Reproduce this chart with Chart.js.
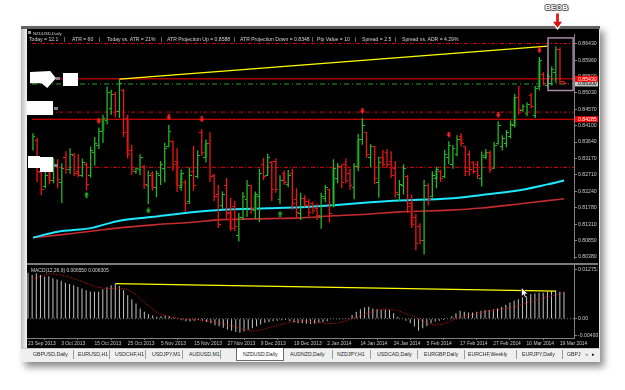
<!DOCTYPE html>
<html>
<head>
<meta charset="utf-8">
<script src="https://cdn.jsdelivr.net/npm/chart.js@4.4.1/dist/chart.umd.min.js"></script>
<style>
  html, body { margin: 0; padding: 0; background: #fff; }
  body { width: 625px; height: 390px; position: relative; overflow: hidden; font-family: "Liberation Sans", Arial, sans-serif; }
  .abs { position: absolute; }
  .t { position: absolute; white-space: nowrap; transform-origin: 0 0; transform: scale(0.5); line-height: 1; }
  #win { left: 21px; top: 26px; width: 579px; height: 336px; background: #e4e4e4; box-shadow: 4px 5px 7px rgba(0,0,0,.45); }
  #topline { left: 21px; top: 26px; width: 579px; height: 3px; background: #626262; }
  #frameL { left: 21px; top: 29px; width: 6px; height: 319px; background: linear-gradient(to right, #bcbcbc, #f4f4f4); }
  #black { left: 27px; top: 29px; width: 572px; height: 319px; background: #000; }
  #main { left: 27px; top: 29px; }
  #sep { left: 27px; top: 263px; width: 571px; height: 2px; background: #7c7c7c; }
  #macd { left: 27px; top: 265px; }
  #tabs { left: 21px; top: 348px; width: 579px; height: 14px; background: #efefef; border-top: 1px solid #c8c8c8; box-sizing: border-box; }
  .hdr { color: #d4d4d4; font-size: 10.2px; top: 37px; }
  .tab { color: #262626; font-size: 10.4px; top: 352px; }
  .sp { position: absolute; top: 350px; width: 1px; height: 9px; background: #9c9c9c; }
  .wb { position: absolute; background: #fff; }
  .ic { position: absolute; width: 4px; height: 3px; background: #7d8290; }
</style>
</head>
<body>
<div id="win" class="abs"></div>
<div id="topline" class="abs"></div>
<div id="frameL" class="abs"></div>
<div id="black" class="abs"></div>
<canvas id="main" class="abs" width="571" height="234"></canvas>
<div id="sep" class="abs"></div>
<canvas id="macd" class="abs" width="571" height="83"></canvas>

<!-- chart header texts -->
<div class="abs" style="left:28px;top:31px;width:3px;height:3px;background:#9a9a9a;"></div>
<div class="t" style="left:33px;top:30.5px;font-size:8.6px;color:#d4d4d4;">NZDUSD,Daily</div>
<div class="t hdr" style="left:29px;">Today = 12.1</div>
<div class="t hdr" style="left:64px;">|</div>
<div class="t hdr" style="left:72px;">ATR = 60</div>
<div class="t hdr" style="left:99px;">|</div>
<div class="t hdr" style="left:107px;">Today vs. ATR = 21%</div>
<div class="t hdr" style="left:161px;">|</div>
<div class="t hdr" style="left:167px;">ATR Projection Up = 0.8588</div>
<div class="t hdr" style="left:234px;">|</div>
<div class="t hdr" style="left:240px;">ATR Projection Down = 0.8348</div>
<div class="t hdr" style="left:312px;">|</div>
<div class="t hdr" style="left:317px;">Pip Value = 10</div>
<div class="t hdr" style="left:355px;">|</div>
<div class="t hdr" style="left:362px;">Spread = 2.5</div>
<div class="t hdr" style="left:395px;">|</div>
<div class="t hdr" style="left:402px;">Spread vs. ADR = 4.29%</div>
<div class="t" style="left:31px;top:267.5px;font-size:9.8px;color:#d4d4d4;">MACD(12,26,9) 0.006550 0.006305</div>

<!-- blanked-out object labels on the left -->
<div class="wb" style="left:30px;top:71px;width:26px;height:17px;clip-path:polygon(0 6%,78% 0,100% 42%,66% 100%,44% 72%,0 72%);"></div>
<div class="wb" style="left:63px;top:73px;width:15px;height:13px;"></div>
<div class="wb" style="left:27px;top:101px;width:26px;height:14px;"></div>
<div class="wb" style="left:28px;top:156px;width:25px;height:16px;clip-path:polygon(0 0,48% 0,48% 6%,100% 6%,100% 100%,48% 100%,48% 75%,0 75%);"></div>
<div class="ic" style="left:56px;top:77px;"></div>
<div class="ic" style="left:54px;top:107px;"></div>
<div class="ic" style="left:54px;top:164px;"></div>

<!-- BEOB note -->
<div class="t" style="left:545px;top:3px;font-size:16px;font-weight:bold;color:#fff;text-shadow:-2px 0 #5a5a5a,2px 0 #5a5a5a,0 -2px #5a5a5a,0 2px #5a5a5a,2px 2px 2px #888;">BEOB</div>
<svg class="abs" style="left:550px;top:12px;" width="15" height="18" viewBox="0 0 15 18">
  <polygon points="5.5,0.8 9.5,0.8 9.5,9 13.5,9 7.5,17 1.5,9 5.5,9" fill="#e01010" stroke="#fff" stroke-width="1.3"/>
</svg>
<svg class="abs" style="left:521px;top:287px;" width="8" height="12" viewBox="0 0 8 12">
  <polygon points="0.5,0.5 0.5,9.5 2.6,7.6 4,10.8 5.4,10.2 4,7 6.8,7" fill="#fff" stroke="#000" stroke-width="0.6"/>
</svg>

<!-- symbol tabs -->
<div id="tabs" class="abs"></div>
<div class="abs" style="left:236px;top:348px;width:48px;height:13px;background:#fff;border:1px solid #6c6c6c;border-top:none;box-sizing:border-box;"></div>
<div class="t tab" style="left:33px;">GBPUSD,Daily</div><div class="sp" style="left:73px;"></div>
<div class="t tab" style="left:78px;">EURUSD,H1</div><div class="sp" style="left:109px;"></div>
<div class="t tab" style="left:115px;">USDCHF,H1</div><div class="sp" style="left:145px;"></div>
<div class="t tab" style="left:152px;">USDJPY,M1</div><div class="sp" style="left:182px;"></div>
<div class="t tab" style="left:189px;">AUDUSD,M1</div><div class="sp" style="left:220px;"></div>
<div class="t tab" style="left:243px;">NZDUSD,Daily</div>
<div class="t tab" style="left:290px;">AUDNZD,Daily</div><div class="sp" style="left:332px;"></div>
<div class="t tab" style="left:337px;">NZDJPY,H1</div><div class="sp" style="left:370px;"></div>
<div class="t tab" style="left:377px;">USDCAD,Daily</div><div class="sp" style="left:417px;"></div>
<div class="t tab" style="left:424px;">EURGBP,Daily</div><div class="sp" style="left:464px;"></div>
<div class="t tab" style="left:468px;">EURCHF,Weekly</div><div class="sp" style="left:516px;"></div>
<div class="t tab" style="left:522px;">EURJPY,Daily</div><div class="sp" style="left:562px;"></div>
<div class="t tab" style="left:567px;">GBPJ</div>
<div class="t tab" style="left:585px;color:#8a8a8a;">◂</div>
<div class="t tab" style="left:592px;color:#000;">▸</div>

<script>
// ---------- NZDUSD Daily, 23 Sep 2013 - 20 Mar 2014 ----------
const opens = [
  0.8345, 0.8369, 0.8277, 0.8238, 0.8300, 0.8255, 0.8300, 0.8250, 0.8320, 0.8285,
  0.8325, 0.8280, 0.8270, 0.8300, 0.8268, 0.8335, 0.8355, 0.8395, 0.8425, 0.8460,
  0.8500, 0.8450, 0.8510, 0.8430, 0.8340, 0.8280, 0.8285, 0.8295, 0.8240, 0.8275,
  0.8235, 0.8270, 0.8290, 0.8350, 0.8365, 0.8310, 0.8235, 0.8250, 0.8195, 0.8280,
  0.8265, 0.8390, 0.8320, 0.8360, 0.8270, 0.8215, 0.8185, 0.8240, 0.8165, 0.8180,
  0.8100, 0.8150, 0.8200, 0.8240, 0.8170, 0.8210, 0.8300, 0.8270, 0.8305, 0.8310,
  0.8200, 0.8275, 0.8245, 0.8275, 0.8200, 0.8160, 0.8205, 0.8195, 0.8190, 0.8175,
  0.8150, 0.8205, 0.8230, 0.8185, 0.8260, 0.8295, 0.8300, 0.8275, 0.8235, 0.8295,
  0.8370, 0.8390, 0.8320, 0.8350, 0.8250, 0.8320, 0.8335, 0.8310, 0.8290, 0.8215,
  0.8240, 0.8265, 0.8190, 0.8150, 0.8125, 0.8085, 0.8240, 0.8210, 0.8260, 0.8280,
  0.8265, 0.8320, 0.8300, 0.8330, 0.8380, 0.8350, 0.8330, 0.8305, 0.8300, 0.8260,
  0.8320, 0.8335, 0.8290, 0.8360, 0.8350, 0.8360, 0.8380, 0.8410, 0.8490, 0.8452,
  0.8445, 0.8495, 0.8440, 0.8520, 0.8555, 0.8525, 0.8530, 0.8560, 0.8625, 0.8535
];
const highs = [
  0.8389, 0.8376, 0.8280, 0.8288, 0.8315, 0.8319, 0.8315, 0.8304, 0.8338, 0.8346,
  0.8333, 0.8329, 0.8317, 0.8306, 0.8351, 0.8378, 0.8405, 0.8441, 0.8521, 0.8512,
  0.8506, 0.8541, 0.8514, 0.8441, 0.8356, 0.8292, 0.8329, 0.8299, 0.8283, 0.8281,
  0.8283, 0.8310, 0.8362, 0.8412, 0.8369, 0.8346, 0.8286, 0.8256, 0.8292, 0.8353,
  0.8340, 0.8400, 0.8371, 0.8392, 0.8274, 0.8242, 0.8224, 0.8262, 0.8206, 0.8197,
  0.8163, 0.8222, 0.8256, 0.8242, 0.8224, 0.8288, 0.8319, 0.8331, 0.8310, 0.8317,
  0.8270, 0.8283, 0.8285, 0.8288, 0.8233, 0.8220, 0.8213, 0.8202, 0.8195, 0.8190,
  0.8220, 0.8242, 0.8231, 0.8315, 0.8304, 0.8301, 0.8317, 0.8288, 0.8304, 0.8387,
  0.8432, 0.8392, 0.8358, 0.8353, 0.8322, 0.8342, 0.8344, 0.8338, 0.8310, 0.8256,
  0.8301, 0.8270, 0.8215, 0.8161, 0.8134, 0.8256, 0.8247, 0.8281, 0.8294, 0.8285,
  0.8342, 0.8366, 0.8355, 0.8383, 0.8389, 0.8353, 0.8340, 0.8310, 0.8310, 0.8337,
  0.8344, 0.8340, 0.8364, 0.8423, 0.8383, 0.8398, 0.8425, 0.8500, 0.8523, 0.8471,
  0.8477, 0.8503, 0.8523, 0.8605, 0.8562, 0.8559, 0.8578, 0.8635, 0.8632, 0.8537
];
const lows = [
  0.8340, 0.8251, 0.8213, 0.8233, 0.8244, 0.8247, 0.8233, 0.8191, 0.8274, 0.8274,
  0.8268, 0.8265, 0.8265, 0.8227, 0.8263, 0.8297, 0.8344, 0.8362, 0.8414, 0.8441,
  0.8434, 0.8432, 0.8378, 0.8317, 0.8270, 0.8274, 0.8270, 0.8231, 0.8188, 0.8226,
  0.8208, 0.8242, 0.8250, 0.8349, 0.8281, 0.8222, 0.8226, 0.8166, 0.8188, 0.8226,
  0.8261, 0.8324, 0.8306, 0.8251, 0.8197, 0.8120, 0.8175, 0.8147, 0.8112, 0.8112,
  0.8082, 0.8143, 0.8152, 0.8161, 0.8147, 0.8137, 0.8256, 0.8268, 0.8197, 0.8220,
  0.8188, 0.8242, 0.8236, 0.8172, 0.8147, 0.8143, 0.8179, 0.8152, 0.8161, 0.8143,
  0.8118, 0.8193, 0.8136, 0.8179, 0.8247, 0.8233, 0.8247, 0.8229, 0.8202, 0.8281,
  0.8356, 0.8319, 0.8292, 0.8244, 0.8206, 0.8292, 0.8292, 0.8262, 0.8206, 0.8197,
  0.8215, 0.8163, 0.8120, 0.8057, 0.8075, 0.8045, 0.8184, 0.8206, 0.8233, 0.8251,
  0.8261, 0.8301, 0.8288, 0.8324, 0.8351, 0.8268, 0.8268, 0.8274, 0.8259, 0.8238,
  0.8315, 0.8277, 0.8288, 0.8356, 0.8340, 0.8349, 0.8374, 0.8405, 0.8441, 0.8450,
  0.8437, 0.8459, 0.8432, 0.8510, 0.8524, 0.8518, 0.8524, 0.8532, 0.8526, 0.8526
];
const closes = [
  0.8380, 0.8280, 0.8230, 0.8270, 0.8255, 0.8300, 0.8258, 0.8290, 0.8285, 0.8330,
  0.8275, 0.8270, 0.8305, 0.8245, 0.8340, 0.8360, 0.8395, 0.8430, 0.8505, 0.8500,
  0.8450, 0.8530, 0.8390, 0.8330, 0.8285, 0.8288, 0.8320, 0.8245, 0.8270, 0.8235,
  0.8275, 0.8300, 0.8345, 0.8395, 0.8300, 0.8240, 0.8275, 0.8190, 0.8270, 0.8240,
  0.8325, 0.8335, 0.8360, 0.8265, 0.8210, 0.8130, 0.8215, 0.8160, 0.8120, 0.8125,
  0.8150, 0.8210, 0.8240, 0.8175, 0.8215, 0.8275, 0.8265, 0.8320, 0.8230, 0.8230,
  0.8255, 0.8250, 0.8270, 0.8190, 0.8165, 0.8205, 0.8185, 0.8165, 0.8170, 0.8155,
  0.8210, 0.8235, 0.8160, 0.8290, 0.8295, 0.8250, 0.8255, 0.8240, 0.8295, 0.8370,
  0.8410, 0.8330, 0.8350, 0.8260, 0.8305, 0.8300, 0.8300, 0.8270, 0.8220, 0.8245,
  0.8290, 0.8180, 0.8130, 0.8075, 0.8085, 0.8240, 0.8200, 0.8270, 0.8285, 0.8260,
  0.8330, 0.8355, 0.8345, 0.8370, 0.8360, 0.8280, 0.8285, 0.8280, 0.8270, 0.8325,
  0.8335, 0.8285, 0.8355, 0.8410, 0.8375, 0.8390, 0.8415, 0.8490, 0.8455, 0.8465,
  0.8470, 0.8465, 0.8515, 0.8595, 0.8530, 0.8550, 0.8570, 0.8625, 0.8535, 0.8530
];
// bars that carry a dark filled body
const bodyBars = [4, 11, 17, 23, 29, 35, 36, 42, 48, 54, 61, 66, 73, 79, 85, 92, 98, 104, 110, 111, 117, 123];

// moving averages, [bar, price]
const maCyan = [[0, 0.8093], [6, 0.8110], [14, 0.8120], [21, 0.8141], [30, 0.8153], [38, 0.8164], [46, 0.8172],
  [57, 0.8176], [65, 0.8179], [73, 0.8185], [82, 0.8193], [89, 0.8198], [101, 0.8204], [109, 0.8214],
  [117, 0.8225], [125, 0.8244], [129, 0.8255]];
const maRed = [[0, 0.8093], [6, 0.8100], [14, 0.8111], [22, 0.8122], [30, 0.8130], [38, 0.8136], [46, 0.8144],
  [57, 0.8147], [65, 0.8149], [73, 0.8155], [82, 0.8160], [89, 0.8166], [101, 0.8171], [109, 0.8177],
  [117, 0.8187], [125, 0.8198], [129, 0.8203]];
const trendPrice = [[21, 0.8542], [125, 0.8636]];
const arrowsDown = [[16, 0.8423], [33, 0.8434], [41, 0.8428], [80, 0.8452], [101, 0.8385], [113, 0.8441], [123, 0.8624]];
const arrowsUp = [[13, 0.8215], [28, 0.8170], [60, 0.8161]];

// horizontal levels
const levelSolid = [0.85430, 0.84285];
const levelDashRed = [0.86430, 0.82922];
const levelDashGreen = [0.85285];
const levelDashDark = [0.84485];
const bidPrice = 0.85300;
const beobBox = [125.1, 131.2, 0.8659, 0.8510];   // bar from, bar to, price top, price bottom

const priceTicks = [0.86430, 0.85960, 0.85500, 0.85030, 0.84570, 0.84100, 0.83640, 0.83170,
  0.82710, 0.82240, 0.81780, 0.81310, 0.80850, 0.80380];
const dateBars = [0, 8, 16, 24, 32, 40, 48, 56, 64, 72, 80, 88, 96, 104, 112, 120, 128];
const dateLabels = ['23 Sep 2013', '3 Oct 2013', '15 Oct 2013', '25 Oct 2013', '5 Nov 2013', '15 Nov 2013',
  '27 Nov 2013', '9 Dec 2013', '19 Dec 2013', '2 Jan 2014', '14 Jan 2014', '24 Jan 2014', '5 Feb 2014',
  '17 Feb 2014', '27 Feb 2014', '10 Mar 2014', '19 Mar 2014'];

// MACD(12,26,9)
const macdMain = [
  0.0111, 0.0106, 0.0110, 0.0106, 0.0102, 0.0103, 0.0098, 0.0095, 0.0092, 0.0087,
  0.0084, 0.0081, 0.0077, 0.0073, 0.0069, 0.0066, 0.0065, 0.0065, 0.0071, 0.0076,
  0.0081, 0.0084, 0.0079, 0.0069, 0.0057, 0.0047, 0.0037, 0.0025, 0.0017, 0.0011,
  0.0008, 0.0005, 0.0006, 0.0008, 0.0006, 0.0003, 0.0000, -0.0004, -0.0006, -0.0007,
  -0.0005, -0.0003, -0.0005, -0.0008, -0.0011, -0.0016, -0.0018, -0.0022, -0.0026, -0.0029,
  -0.0032, -0.0034, -0.0031, -0.0027, -0.0023, -0.0018, -0.0014, -0.0010, -0.0008, -0.0006,
  -0.0005, -0.0004, -0.0003, -0.0006, -0.0009, -0.0011, -0.0011, -0.0012, -0.0013, -0.0012,
  -0.0010, -0.0008, -0.0006, -0.0002, 0.0000, -0.0001, -0.0002, 0.0002, 0.0009, 0.0017,
  0.0023, 0.0027, 0.0029, 0.0025, 0.0023, 0.0021, 0.0023, 0.0021, 0.0013, 0.0005,
  0.0001, -0.0005, -0.0011, -0.0019, -0.0029, -0.0023, -0.0018, -0.0011, -0.0007, -0.0005,
  -0.0003, 0.0001, 0.0006, 0.0013, 0.0019, 0.0017, 0.0015, 0.0015, 0.0017, 0.0019,
  0.0021, 0.0021, 0.0023, 0.0025, 0.0029, 0.0033, 0.0039, 0.0044, 0.0047, 0.0052,
  0.0055, 0.0060, 0.0061, 0.0063, 0.0063, 0.0065, 0.0067, 0.0068, 0.0065, 0.00655
];
const macdSignal = [[1, 0.0094], [5, 0.0108], [9, 0.0103], [13, 0.0090], [17, 0.0076], [20, 0.0073], [22, 0.0074],
  [25, 0.0065], [29, 0.0031], [32, 0.0011], [37, 0.0000], [43, -0.0005], [48, -0.0015], [53, -0.0028],
  [55, -0.0029], [59, -0.0019], [65, -0.0006], [70, -0.0009], [74, -0.0011], [79, 0.0003], [86, 0.0023],
  [92, 0.0009], [98, -0.0015], [104, 0.0003], [110, 0.0017], [117, 0.0029], [122, 0.0045], [129, 0.0063]];
const macdTrend = [[21, 0.0085], [127, 0.0067]];
// MT4 pins the pane max/min labels just inside the pane edges
const macdTickVals = [0.0120, 0, -0.0041];
const macdTickLabels = ['0.012751', '0.00', '-0.004931'];

// ---------- look ----------
const X_MIN = -0.24, X_MAX = 131.41;
const GREEN = '#26b826', RED = '#ee1616', DGREEN = '#0d4f0d', DRED = '#5e0c0c';
const AXIS = '#808080';

Chart.defaults.font.family = '"Liberation Sans", Arial, sans-serif';
Chart.defaults.font.size = 5.2;
Chart.defaults.color = '#c8c8c8';
Chart.defaults.animation = false;
Chart.defaults.plugins.legend.display = false;
Chart.defaults.plugins.tooltip.enabled = false;

const fixAxis = (w, h) => (s) => {
  if (w != null) s.width = w;
  if (h != null) s.height = h;
  s.paddingLeft = s.paddingRight = s.paddingTop = s.paddingBottom = 0;
};
const pts = (arr) => arr.map(([x, y]) => ({ x, y }));
const hline = (v, color, dash, width) => ({
  type: 'line', data: [{ x: X_MIN, y: v }, { x: X_MAX, y: v }],
  borderColor: color, borderDash: dash, borderWidth: width, pointRadius: 0,
});

// little sprites for open/close ticks and fractal arrows
function sprite(w, h, paint) {
  const c = document.createElement('canvas');
  c.width = w; c.height = h;
  paint(c.getContext('2d'));
  return c;
}
const tick = (color, left) => sprite(5, 1, (g) => { g.fillStyle = color; g.fillRect(left ? 0 : 3, 0, 2, 1); });
const openG = tick(GREEN, true), openR = tick(RED, true), closeG = tick(GREEN, false), closeR = tick(RED, false);
const arrowDown = sprite(5, 6, (g) => {
  g.fillStyle = '#ff2626'; g.fillRect(1.5, 0, 2, 3);
  g.beginPath(); g.moveTo(0, 2.5); g.lineTo(5, 2.5); g.lineTo(2.5, 6); g.closePath(); g.fill();
});
const arrowUp = sprite(5, 6, (g) => {
  g.fillStyle = '#22b022'; g.fillRect(1.5, 3, 2, 3);
  g.beginPath(); g.moveTo(0, 3.5); g.lineTo(5, 3.5); g.lineTo(2.5, 0); g.closePath(); g.fill();
});

const idx = opens.map((_, i) => i);
const isUp = (i) => closes[i] >= opens[i];

// price-axis flags and the BEOB box
const axisFlags = {
  id: 'axisFlags',
  afterDraw(chart) {
    const { ctx, chartArea: a, scales: { x, y } } = chart;
    ctx.save();
    ctx.font = '5.2px "Liberation Sans", Arial, sans-serif';
    ctx.textBaseline = 'middle';
    const flag = (v, bg, fg) => {
      const py = y.getPixelForValue(v);
      ctx.fillStyle = bg;
      ctx.fillRect(a.right + 1, py - 3, 23, 6);
      ctx.fillStyle = fg;
      ctx.fillText(v.toFixed(5), a.right + 4, py + 0.3);
    };
    flag(bidPrice, '#c4c4c4', '#000');
    levelSolid.forEach((v) => flag(v, '#ff0000', '#fff'));
    const [b0, b1, p0, p1] = beobBox;
    const x0 = x.getPixelForValue(b0), x1 = x.getPixelForValue(b1);
    const y0 = y.getPixelForValue(p0), y1 = y.getPixelForValue(p1);
    ctx.strokeStyle = '#a987a9';
    ctx.lineWidth = 1.5;
    ctx.strokeRect(x0, y0, x1 - x0, y1 - y0);
    ctx.restore();
  },
};

// ---------- main price pane ----------
new Chart(document.getElementById('main'), {
  type: 'bar',
  data: {
    datasets: [
      { type: 'line', data: pts(arrowsDown), showLine: false, pointStyle: arrowDown, pointRadius: 3, order: 0 },
      { type: 'line', data: pts(arrowsUp), showLine: false, pointStyle: arrowUp, pointRadius: 3, order: 0 },
      { type: 'line', data: pts(trendPrice), borderColor: '#ffff00', borderWidth: 1.2, pointRadius: 0, order: 1 },
      { type: 'line', data: idx.map((i) => ({ x: i, y: opens[i] })), showLine: false, pointRadius: 2,
        pointStyle: (c) => (isUp(c.dataIndex) ? openG : openR), order: 2 },
      { type: 'line', data: idx.map((i) => ({ x: i, y: closes[i] })), showLine: false, pointRadius: 2,
        pointStyle: (c) => (isUp(c.dataIndex) ? closeG : closeR), order: 2 },
      { data: idx.map((i) => ({ x: i, y: [lows[i], highs[i]] })), backgroundColor: idx.map((i) => (isUp(i) ? GREEN : RED)),
        barThickness: 1.3, grouped: false, inflateAmount: 0, order: 3 },
      { data: bodyBars.map((i) => ({ x: i, y: [opens[i], closes[i]] })), backgroundColor: bodyBars.map((i) => (isUp(i) ? DGREEN : DRED)),
        barThickness: 3, grouped: false, inflateAmount: 0, order: 4 },
      { type: 'line', data: pts(maCyan), borderColor: '#1ee8ff', borderWidth: 2, pointRadius: 0, tension: 0.3, order: 5 },
      { type: 'line', data: pts(maRed), borderColor: '#c42a2e', borderWidth: 1.6, pointRadius: 0, tension: 0.3, order: 5 },
      ...levelSolid.map((v) => ({ ...hline(v, '#ff0000', [], 1), order: 6 })),
      ...levelDashRed.map((v) => ({ ...hline(v, '#e80000', [4, 2, 1, 2], 1), order: 6 })),
      ...levelDashGreen.map((v) => ({ ...hline(v, '#2e9a2e', [5, 3, 1, 3], 1), order: 6 })),
      ...levelDashDark.map((v) => ({ ...hline(v, '#6a0606', [4, 2, 1, 2], 2), order: 6 })),
    ],
  },
  options: {
    responsive: false,
    devicePixelRatio: 1,
    layout: { padding: 0 },
    scales: {
      x: { type: 'linear', min: X_MIN, max: X_MAX, offset: false, display: false },
      y: {
        position: 'right', min: 0.80353, max: 0.86701,
        afterBuildTicks: (s) => { s.ticks = priceTicks.map((v) => ({ value: v })); },
        afterFit: fixAxis(24, null),
        ticks: { callback: (v) => v.toFixed(5), padding: 1, color: '#c8c8c8' },
        grid: { drawOnChartArea: false, tickLength: 3, color: AXIS },
        border: { color: AXIS },
      },
    },
  },
  plugins: [axisFlags],
});

// ---------- MACD pane ----------
new Chart(document.getElementById('macd'), {
  type: 'bar',
  data: {
    datasets: [
      { type: 'line', data: pts(macdTrend), borderColor: '#ffff00', borderWidth: 1.2, pointRadius: 0, order: 0 },
      { type: 'line', data: pts(macdSignal), borderColor: '#e01010', borderWidth: 1, borderDash: [1, 1.5],
        pointRadius: 0, tension: 0.4, order: 1 },
      { data: idx.map((i) => ({ x: i, y: macdMain[i] })), backgroundColor: '#c4c4c4',
        barThickness: 1, grouped: false, inflateAmount: 0, order: 2 },
      { ...hline(0, '#7a7a7a', [1, 2], 1), order: 3 },
    ],
  },
  options: {
    responsive: false,
    devicePixelRatio: 1,
    layout: { padding: 0 },
    scales: {
      x: {
        type: 'linear', min: X_MIN, max: X_MAX, offset: false,
        afterBuildTicks: (s) => { s.ticks = dateBars.map((v) => ({ value: v })); },
        afterFit: fixAxis(null, 10),
        ticks: { callback: (v, i) => dateLabels[i], autoSkip: false, maxRotation: 0, minRotation: 0,
          align: 'start', padding: 1, font: { size: 4.9 } },
        grid: { drawOnChartArea: false, tickLength: 2, color: AXIS },
        border: { color: AXIS },
      },
      y: {
        position: 'right', min: -0.00467, max: 0.0130,
        afterBuildTicks: (s) => { s.ticks = macdTickVals.map((v) => ({ value: v })); },
        afterFit: fixAxis(24, null),
        ticks: { callback: (v, i) => macdTickLabels[i], padding: 1 },
        grid: { drawOnChartArea: false, tickLength: 3, color: AXIS },
        border: { color: AXIS },
      },
    },
  },
});
</script>
</body>
</html>
